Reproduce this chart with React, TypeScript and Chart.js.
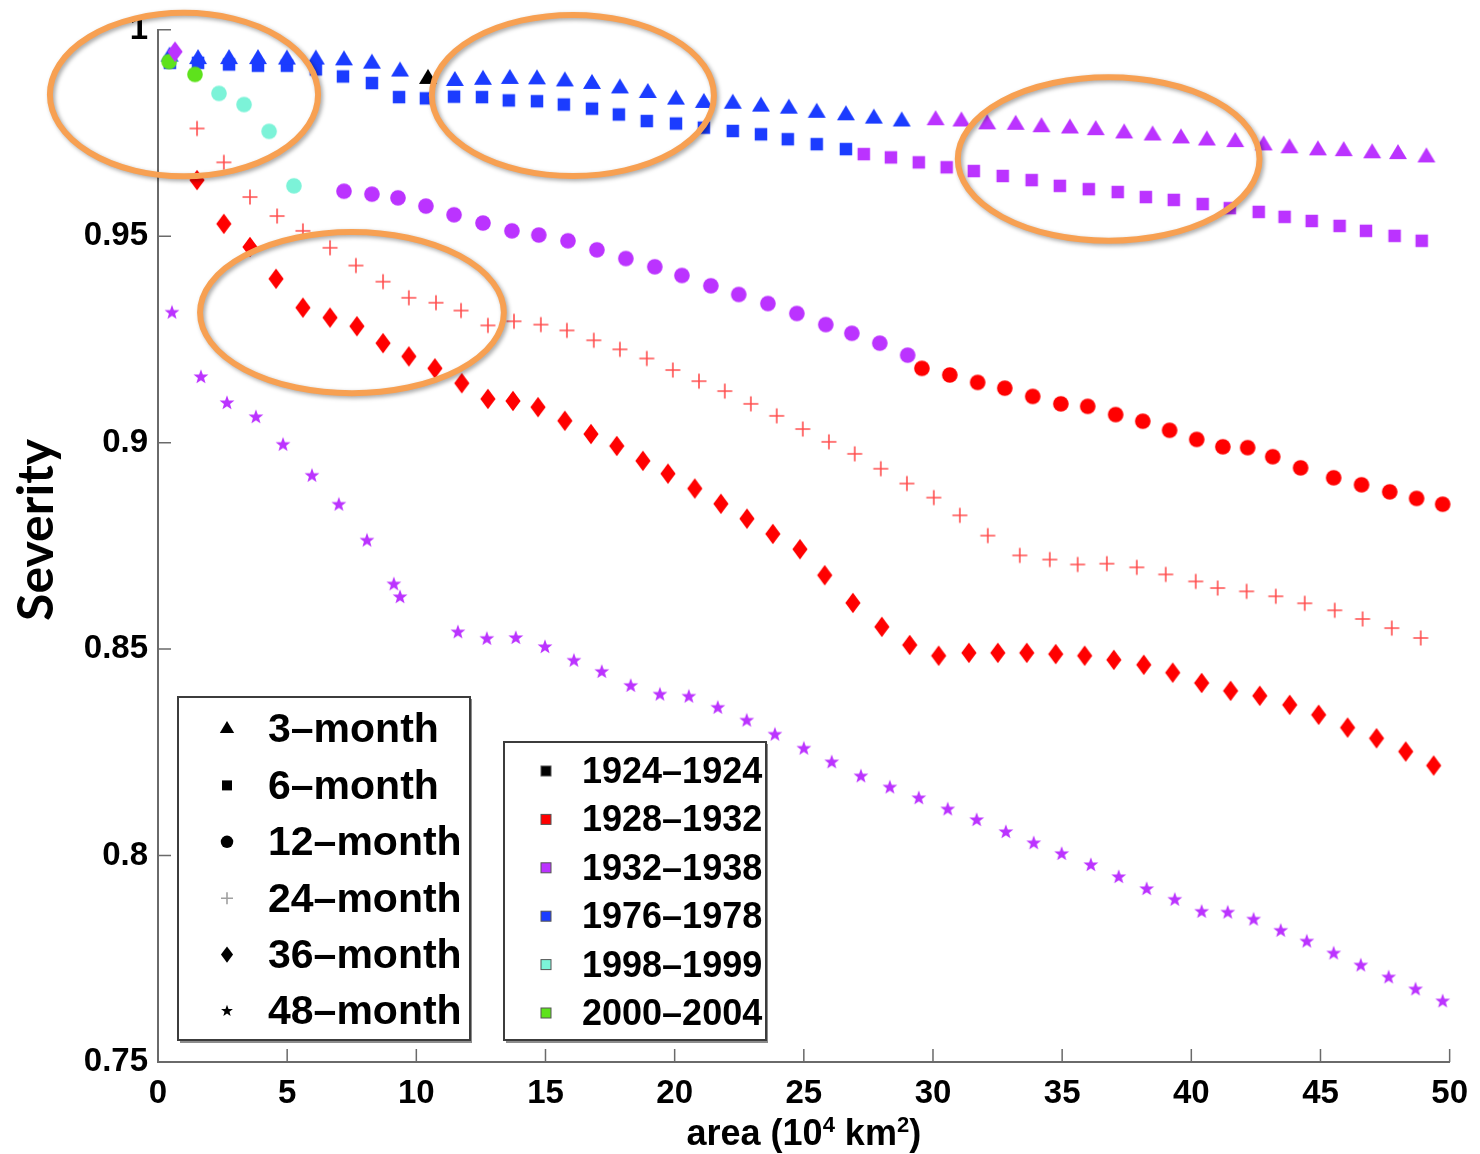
import React, { useEffect, useRef } from 'react';
import { Chart, registerables } from 'chart.js';

Chart.register(...registerables);

// ---------------- categories ----------------
const PERIODS = ['1924–1924', '1928–1932', '1932–1938', '1976–1978', '1998–1999', '2000–2004'];
const PERIOD_COLORS = ['#000000', '#ff0000', '#bb33ff', '#1b3cff', '#7cf3d8', '#5ee21c'];
const DURATIONS = ['3–month', '6–month', '12–month', '24–month', '36–month', '48–month'];
const DURATION_SHAPES = ['triangle', 'square', 'circle', 'plus', 'diamond', 'star'];

// ---------------- axes ----------------
const X_TICKS = [0, 5, 10, 15, 20, 25, 30, 35, 40, 45, 50];
const X_TICK_LABELS = ['0', '5', '10', '15', '20', '25', '30', '35', '40', '45', '50'];
const Y_TICKS = [0.75, 0.8, 0.85, 0.9, 0.95, 1];
const Y_TICK_LABELS = ['0.75', '0.8', '0.85', '0.9', '0.95', '1'];
// x title pieces: [text, isSuperscript]
const X_TITLE_PARTS: [string, boolean][] = [['area (10', false], ['4', true], [' km', false], ['2', true], [')', false]];
const Y_TITLE = 'Severity';

// ---------------- 3-month (triangles) ----------------
const area3 = [0.45, 1.55, 2.75, 3.87, 4.99, 6.11, 7.2, 8.28, 9.37, 10.45, 11.49, 12.58, 13.62, 14.67, 15.75, 16.8, 17.88, 18.96, 20.05, 21.13, 22.25, 23.34, 24.42, 25.5, 26.63, 27.71, 28.79, 30.1, 31.1, 32.1, 33.2, 34.2, 35.3, 36.3, 37.4, 38.5, 39.6, 40.6, 41.7, 42.8, 43.8, 44.9, 45.9, 47.0, 48.0, 49.1];
const sev3 = [0.9935, 0.9929, 0.9929, 0.9929, 0.9928, 0.9928, 0.9926, 0.9918, 0.9899, 0.9881, 0.9876, 0.9879, 0.9881, 0.988, 0.9875, 0.9869, 0.9858, 0.9847, 0.9831, 0.9823, 0.9821, 0.9814, 0.9809, 0.9799, 0.9793, 0.9785, 0.9778, 0.9781, 0.9778, 0.9771, 0.977, 0.9764, 0.9761, 0.9757, 0.9749, 0.9744, 0.9737, 0.9732, 0.9728, 0.972, 0.9713, 0.9708, 0.9706, 0.9701, 0.9699, 0.9691];
const per3 = [3, 3, 3, 3, 3, 3, 3, 3, 3, 0, 3, 3, 3, 3, 3, 3, 3, 3, 3, 3, 3, 3, 3, 3, 3, 3, 3, 2, 2, 2, 2, 2, 2, 2, 2, 2, 2, 2, 2, 2, 2, 2, 2, 2, 2, 2];

// ---------------- 6-month (squares) ----------------
const area6 = [0.46, 1.55, 2.75, 3.87, 4.99, 6.11, 7.16, 8.28, 9.33, 10.37, 11.46, 12.54, 13.58, 14.67, 15.71, 16.8, 17.84, 18.92, 20.05, 21.13, 22.25, 23.34, 24.38, 25.5, 26.63, 27.32, 28.37, 29.45, 30.53, 31.58, 32.7, 33.82, 34.91, 36.03, 37.15, 38.24, 39.32, 40.44, 41.49, 42.61, 43.61, 44.66, 45.74, 46.76, 47.87, 48.92];
const sev6 = [0.992, 0.992, 0.9916, 0.9913, 0.9913, 0.9904, 0.9887, 0.9871, 0.9837, 0.9834, 0.9838, 0.9837, 0.9829, 0.9827, 0.9819, 0.9809, 0.9795, 0.9779, 0.9773, 0.9763, 0.9755, 0.9747, 0.9735, 0.9723, 0.9711, 0.9699, 0.9691, 0.9679, 0.9667, 0.9658, 0.9646, 0.9636, 0.9622, 0.9614, 0.9607, 0.9595, 0.9588, 0.9578, 0.9568, 0.9559, 0.9547, 0.9537, 0.9525, 0.9513, 0.9501, 0.9489];
const per6 = [3, 3, 3, 3, 3, 3, 3, 3, 3, 3, 3, 3, 3, 3, 3, 3, 3, 3, 3, 3, 3, 3, 3, 3, 3, 2, 2, 2, 2, 2, 2, 2, 2, 2, 2, 2, 2, 2, 2, 2, 2, 2, 2, 2, 2, 2];

// ---------------- 12-month (circles) ----------------
const area12 = [0.43, 1.43, 2.36, 3.33, 4.3, 5.26, 7.2, 8.28, 9.29, 10.37, 11.46, 12.58, 13.7, 14.74, 15.87, 16.99, 18.11, 19.23, 20.28, 21.4, 22.48, 23.61, 24.73, 25.85, 26.86, 27.94, 29.02, 29.57, 30.65, 31.73, 32.78, 33.86, 34.95, 35.99, 37.07, 38.12, 39.16, 40.21, 41.22, 42.18, 43.15, 44.23, 45.51, 46.59, 47.68, 48.72, 49.73];
const sev12 = [0.9923, 0.9892, 0.9846, 0.9819, 0.9754, 0.9622, 0.9609, 0.9602, 0.9593, 0.9573, 0.9552, 0.9532, 0.9513, 0.9503, 0.9489, 0.9467, 0.9446, 0.9426, 0.9405, 0.938, 0.9359, 0.9337, 0.9313, 0.9286, 0.9265, 0.9241, 0.9212, 0.918, 0.9164, 0.9146, 0.9132, 0.9112, 0.9094, 0.9088, 0.9068, 0.9052, 0.903, 0.9008, 0.899, 0.8988, 0.8966, 0.8939, 0.8915, 0.8898, 0.8881, 0.8865, 0.8851];
const per12 = [5, 5, 4, 4, 4, 4, 2, 2, 2, 2, 2, 2, 2, 2, 2, 2, 2, 2, 2, 2, 2, 2, 2, 2, 2, 2, 2, 1, 1, 1, 1, 1, 1, 1, 1, 1, 1, 1, 1, 1, 1, 1, 1, 1, 1, 1, 1];

// ---------------- 24-month (plus) ----------------
const area24 = [1.51, 2.55, 3.56, 4.61, 5.61, 6.66, 7.66, 8.71, 9.71, 10.76, 11.73, 12.77, 13.78, 14.82, 15.83, 16.87, 17.88, 18.92, 19.93, 20.94, 21.94, 22.95, 23.95, 24.96, 25.97, 26.97, 27.98, 28.99, 30.03, 31.04, 32.12, 33.36, 34.52, 35.6, 36.73, 37.89, 39.01, 40.17, 41.02, 42.14, 43.27, 44.39, 45.55, 46.63, 47.76, 48.88];
const sev24 = [0.9761, 0.9679, 0.9595, 0.9549, 0.9513, 0.9472, 0.9429, 0.939, 0.9351, 0.9339, 0.932, 0.9284, 0.9294, 0.9286, 0.9272, 0.9248, 0.9226, 0.9204, 0.9176, 0.9149, 0.9125, 0.9094, 0.9065, 0.9033, 0.9002, 0.8973, 0.8937, 0.8901, 0.8867, 0.8824, 0.8775, 0.8727, 0.8717, 0.8705, 0.8707, 0.8698, 0.8681, 0.8664, 0.8648, 0.864, 0.8628, 0.8611, 0.8594, 0.8573, 0.8551, 0.8527];
const per24 = [1, 1, 1, 1, 1, 1, 1, 1, 1, 1, 1, 1, 1, 1, 1, 1, 1, 1, 1, 1, 1, 1, 1, 1, 1, 1, 1, 1, 1, 1, 1, 1, 1, 1, 1, 1, 1, 1, 1, 1, 1, 1, 1, 1, 1, 1];

// ---------------- 36-month (diamonds) ----------------
const area36 = [0.66, 1.51, 2.55, 3.56, 4.57, 5.61, 6.66, 7.7, 8.71, 9.71, 10.72, 11.76, 12.77, 13.74, 14.71, 15.75, 16.76, 17.76, 18.77, 19.74, 20.78, 21.79, 22.8, 23.8, 24.85, 25.81, 26.9, 28.02, 29.1, 30.22, 31.39, 32.51, 33.63, 34.75, 35.87, 37.0, 38.16, 39.28, 40.4, 41.52, 42.65, 43.81, 44.93, 46.05, 47.17, 48.3, 49.38];
const sev36 = [0.9947, 0.9636, 0.953, 0.9474, 0.9397, 0.9327, 0.9303, 0.9282, 0.9241, 0.9209, 0.918, 0.9144, 0.9106, 0.9101, 0.9086, 0.9053, 0.9021, 0.8992, 0.8956, 0.8925, 0.8889, 0.8852, 0.8816, 0.8779, 0.8742, 0.8679, 0.8612, 0.8554, 0.851, 0.8484, 0.8491, 0.8491, 0.8491, 0.8488, 0.8484, 0.8474, 0.8462, 0.8443, 0.8418, 0.8399, 0.8387, 0.8365, 0.8341, 0.831, 0.8284, 0.8252, 0.8218];
const per36 = [2, 1, 1, 1, 1, 1, 1, 1, 1, 1, 1, 1, 1, 1, 1, 1, 1, 1, 1, 1, 1, 1, 1, 1, 1, 1, 1, 1, 1, 1, 1, 1, 1, 1, 1, 1, 1, 1, 1, 1, 1, 1, 1, 1, 1, 1, 1];

// ---------------- 48-month (stars) ----------------
const area48 = [0.54, 1.66, 2.67, 3.79, 4.84, 5.96, 7.0, 8.09, 9.13, 9.37, 11.61, 12.73, 13.85, 14.98, 16.1, 17.18, 18.3, 19.43, 20.55, 21.67, 22.79, 23.88, 25.0, 26.08, 27.21, 28.33, 29.45, 30.57, 31.69, 32.82, 33.9, 34.98, 36.11, 37.19, 38.27, 39.36, 40.4, 41.41, 42.41, 43.46, 44.47, 45.51, 46.56, 47.64, 48.68, 49.73];
const sev48 = [0.9315, 0.9159, 0.9096, 0.9062, 0.8995, 0.892, 0.885, 0.8763, 0.8657, 0.8626, 0.8541, 0.8525, 0.8527, 0.8505, 0.8472, 0.8445, 0.8411, 0.839, 0.8385, 0.8358, 0.8327, 0.8293, 0.8259, 0.8226, 0.8192, 0.8165, 0.8139, 0.8112, 0.8086, 0.8057, 0.803, 0.8004, 0.7977, 0.7948, 0.7919, 0.7893, 0.7864, 0.7862, 0.7845, 0.7818, 0.7792, 0.7763, 0.7734, 0.7705, 0.7676, 0.7647];
const per48 = [2, 2, 2, 2, 2, 2, 2, 2, 2, 2, 2, 2, 2, 2, 2, 2, 2, 2, 2, 2, 2, 2, 2, 2, 2, 2, 2, 2, 2, 2, 2, 2, 2, 2, 2, 2, 2, 2, 2, 2, 2, 2, 2, 2, 2, 2];

// ---------------- highlight ellipses (data units) ----------------
const HL_CX = [1.006, 16.06, 36.8, 7.508];
const HL_CY = [0.9843, 0.9841, 0.9687, 0.9315];
const HL_RX = [5.19, 5.46, 5.84, 5.88];
const HL_RY = [0.0198, 0.0195, 0.0198, 0.0195];

const FONT = '"Liberation Sans", Arial, Helvetica, sans-serif';

function drawShape(ctx: CanvasRenderingContext2D, shape: string, cx: number, cy: number, color: string, k: number) {
  ctx.save();
  ctx.fillStyle = color;
  ctx.strokeStyle = color;
  ctx.beginPath();
  if (shape === 'triangle') {
    const w = 18 * k, h = 15 * k;
    ctx.moveTo(cx, cy - (h * 2) / 3);
    ctx.lineTo(cx + w / 2, cy + h / 3);
    ctx.lineTo(cx - w / 2, cy + h / 3);
    ctx.closePath();
    ctx.fill();
  } else if (shape === 'square') {
    const s = 12.5 * k;
    ctx.rect(cx - s / 2, cy - s / 2, s, s);
    ctx.fill();
  } else if (shape === 'circle') {
    ctx.arc(cx, cy, 7.8 * k, 0, Math.PI * 2);
    ctx.fill();
  } else if (shape === 'plus') {
    const s = 7.5 * k;
    ctx.lineWidth = 1.6;
    ctx.globalAlpha = 0.7;
    ctx.moveTo(cx - s, cy);
    ctx.lineTo(cx + s, cy);
    ctx.moveTo(cx, cy - s);
    ctx.lineTo(cx, cy + s);
    ctx.stroke();
  } else if (shape === 'diamond') {
    const w = 7.6 * k, h = 10.2 * k;
    ctx.moveTo(cx, cy - h);
    ctx.lineTo(cx + w, cy);
    ctx.lineTo(cx, cy + h);
    ctx.lineTo(cx - w, cy);
    ctx.closePath();
    ctx.fill();
  } else if (shape === 'star') {
    const R = 7.8 * k, r = 3.2 * k;
    for (let i = 0; i < 10; i++) {
      const a = -Math.PI / 2 + (i * Math.PI) / 5;
      const rr = i % 2 === 0 ? R : r;
      const px = cx + Math.cos(a) * rr, py = cy + Math.sin(a) * rr;
      if (i === 0) ctx.moveTo(px, py);
      else ctx.lineTo(px, py);
    }
    ctx.closePath();
    ctx.fill();
  }
  ctx.restore();
}

function makeMarker(shape: string, color: string): HTMLCanvasElement {
  const c = document.createElement('canvas');
  c.width = 26;
  c.height = 26;
  const ctx = c.getContext('2d')!;
  drawShape(ctx, shape, 13, 13, color, 1);
  return c;
}

const framePlugin = {
  id: 'frame',
  afterDraw(chart: any) {
    const { ctx, chartArea: ca, scales } = chart;
    const xs = scales.x, ys = scales.y;
    ctx.save();
    // inward ticks
    ctx.strokeStyle = '#6a6a6a';
    ctx.lineWidth = 1.5;
    ctx.beginPath();
    X_TICKS.forEach((v) => {
      const px = xs.getPixelForValue(v);
      ctx.moveTo(px, ca.bottom);
      ctx.lineTo(px, ca.bottom - 13);
    });
    Y_TICKS.forEach((v) => {
      const py = ys.getPixelForValue(v);
      ctx.moveTo(ca.left, py);
      ctx.lineTo(ca.left + 13, py);
    });
    ctx.stroke();

    // axis titles
    ctx.fillStyle = '#000000';
    ctx.textBaseline = 'alphabetic';
    // y title (rotated)
    ctx.save();
    ctx.translate(ca.left - 105, (ca.top + ca.bottom) / 2 - 16);
    ctx.rotate(-Math.PI / 2);
    ctx.font = 'bold 50px Lato, "Open Sans", sans-serif';
    ctx.textAlign = 'center';
    ctx.fillText(Y_TITLE, 0, 0);
    ctx.restore();
    // x title with superscripts
    ctx.textAlign = 'left';
    const mainFont = `bold 36px ${FONT}`;
    const supFont = `bold 22px ${FONT}`;
    let total = 0;
    X_TITLE_PARTS.forEach(([t, sup]) => {
      ctx.font = sup ? supFont : mainFont;
      total += ctx.measureText(t).width;
    });
    let tx = (ca.left + ca.right) / 2 - total / 2;
    const baseY = ca.bottom + 83;
    X_TITLE_PARTS.forEach(([t, sup]) => {
      ctx.font = sup ? supFont : mainFont;
      ctx.fillText(t, tx, sup ? baseY - 13 : baseY);
      tx += ctx.measureText(t).width;
    });

    // legend boxes
    const drawBox = (x: number, y: number, w: number, h: number) => {
      ctx.fillStyle = '#ffffff';
      ctx.fillRect(x, y, w, h);
      ctx.fillStyle = '#8c8c8c';
      ctx.fillRect(x + 2, y + h, w, 3);
      ctx.fillRect(x + w, y + 2, 2, h + 1);
      ctx.strokeStyle = '#3c3c3c';
      ctx.lineWidth = 2;
      ctx.strokeRect(x, y, w, h);
    };
    // box 1: durations
    const b1x = ca.left + 20, b1w = 292, b1h = 343, b1y = ca.bottom - 22 - b1h;
    drawBox(b1x, b1y, b1w, b1h);
    ctx.font = `bold 41px ${FONT}`;
    ctx.textBaseline = 'middle';
    ctx.textAlign = 'left';
    DURATIONS.forEach((lab, i) => {
      const cy = b1y + 32 + i * 56.4;
      const shape = DURATION_SHAPES[i];
      drawShape(ctx, shape, b1x + 49, cy, shape === 'plus' ? '#777777' : '#000000', 0.8);
      ctx.fillStyle = '#000000';
      ctx.fillText(lab, b1x + 90, cy + 2);
    });
    // box 2: periods
    const b2x = ca.left + 346, b2w = 262, b2h = 298, b2y = ca.bottom - 22 - b2h;
    drawBox(b2x, b2y, b2w, b2h);
    ctx.font = `bold 36px ${FONT}`;
    PERIODS.forEach((lab, i) => {
      const cy = b2y + 29 + i * 48.4;
      ctx.fillStyle = PERIOD_COLORS[i];
      ctx.fillRect(b2x + 42 - 5, cy - 5, 10, 10);
      ctx.strokeStyle = '#555555';
      ctx.lineWidth = 1;
      ctx.strokeRect(b2x + 42 - 5, cy - 5, 10, 10);
      ctx.fillStyle = '#000000';
      ctx.fillText(lab, b2x + 78, cy + 2);
    });

    // highlight ellipses
    ctx.strokeStyle = '#f7a052';
    ctx.lineWidth = 6;
    ctx.shadowColor = 'rgba(0,0,0,0.35)';
    ctx.shadowBlur = 4;
    ctx.shadowOffsetX = 2;
    ctx.shadowOffsetY = 2;
    HL_CX.forEach((cxv, i) => {
      const cx = xs.getPixelForValue(cxv);
      const cy = ys.getPixelForValue(HL_CY[i]);
      const rx = Math.abs(xs.getPixelForValue(cxv + HL_RX[i]) - cx);
      const ry = Math.abs(ys.getPixelForValue(HL_CY[i] + HL_RY[i]) - cy);
      ctx.beginPath();
      ctx.ellipse(cx, cy, rx, ry, 0, 0, Math.PI * 2);
      ctx.stroke();
    });
    ctx.restore();
  },
};

export default function App() {
  const ref = useRef<HTMLCanvasElement>(null);
  useEffect(() => {
    const markers: Record<string, HTMLCanvasElement[]> = {};
    DURATION_SHAPES.forEach((s) => {
      markers[s] = PERIOD_COLORS.map((c) => makeMarker(s, c));
    });
    const series = [
      { x: area3, y: sev3, p: per3, order: 4 },
      { x: area6, y: sev6, p: per6, order: 5 },
      { x: area12, y: sev12, p: per12, order: 1 },
      { x: area24, y: sev24, p: per24, order: 3 },
      { x: area36, y: sev36, p: per36, order: 0 },
      { x: area48, y: sev48, p: per48, order: 2 },
    ];
    const datasets = series.map((s, i) => ({
      label: DURATIONS[i],
      data: s.x.map((xv, j) => ({ x: xv, y: s.y[j] })),
      pointStyle: s.p.map((pi) => markers[DURATION_SHAPES[i]][pi]),
      pointRadius: 8,
      showLine: false,
      order: s.order,
      clip: false as any,
    }));

    Chart.defaults.font.family = FONT;
    Chart.defaults.color = '#000';
    const chart = new Chart(ref.current!, {
      type: 'scatter',
      data: { datasets },
      options: {
        animation: false,
        responsive: true,
        maintainAspectRatio: false,
        events: [],
        layout: { padding: { left: 0, right: 30, top: 25, bottom: 0 } },
        plugins: { legend: { display: false }, tooltip: { enabled: false } },
        scales: {
          x: {
            type: 'linear',
            min: 0,
            max: 50,
            afterBuildTicks: (scale: any) => {
              scale.ticks = X_TICKS.map((v) => ({ value: v }));
            },
            afterFit: (scale: any) => {
              scale.height = 92;
            },
            grid: { display: false, drawTicks: false, tickLength: 0 },
            border: { display: true, color: '#6a6a6a', width: 2 },
            ticks: {
              padding: 12,
              maxRotation: 0,
              autoSkip: false,
              font: { size: 33, weight: 'bold' },
              color: '#000',
              callback: (v: any) => X_TICK_LABELS[X_TICKS.indexOf(Number(v))] ?? '',
            },
            title: { display: false },
          },
          y: {
            type: 'linear',
            min: 0.75,
            max: 1,
            afterBuildTicks: (scale: any) => {
              scale.ticks = Y_TICKS.map((v) => ({ value: v }));
            },
            afterFit: (scale: any) => {
              scale.width = 158;
            },
            grid: { display: false, drawTicks: false, tickLength: 0 },
            border: { display: true, color: '#6a6a6a', width: 2 },
            ticks: {
              padding: 10,
              autoSkip: false,
              font: { size: 33, weight: 'bold' },
              color: '#000',
              callback: (v: any) => {
                const idx = Y_TICKS.findIndex((t) => Math.abs(t - Number(v)) < 1e-9);
                return idx >= 0 ? Y_TICK_LABELS[idx] : '';
              },
            },
            title: { display: false },
          },
        },
      },
      plugins: [framePlugin],
    } as any);
    return () => chart.destroy();
  }, []);

  return (
    <div style={{ position: 'absolute', left: 0, top: 0, width: 1480, height: 1154, background: '#ffffff' }}>
      <canvas ref={ref} />
    </div>
  );
}
